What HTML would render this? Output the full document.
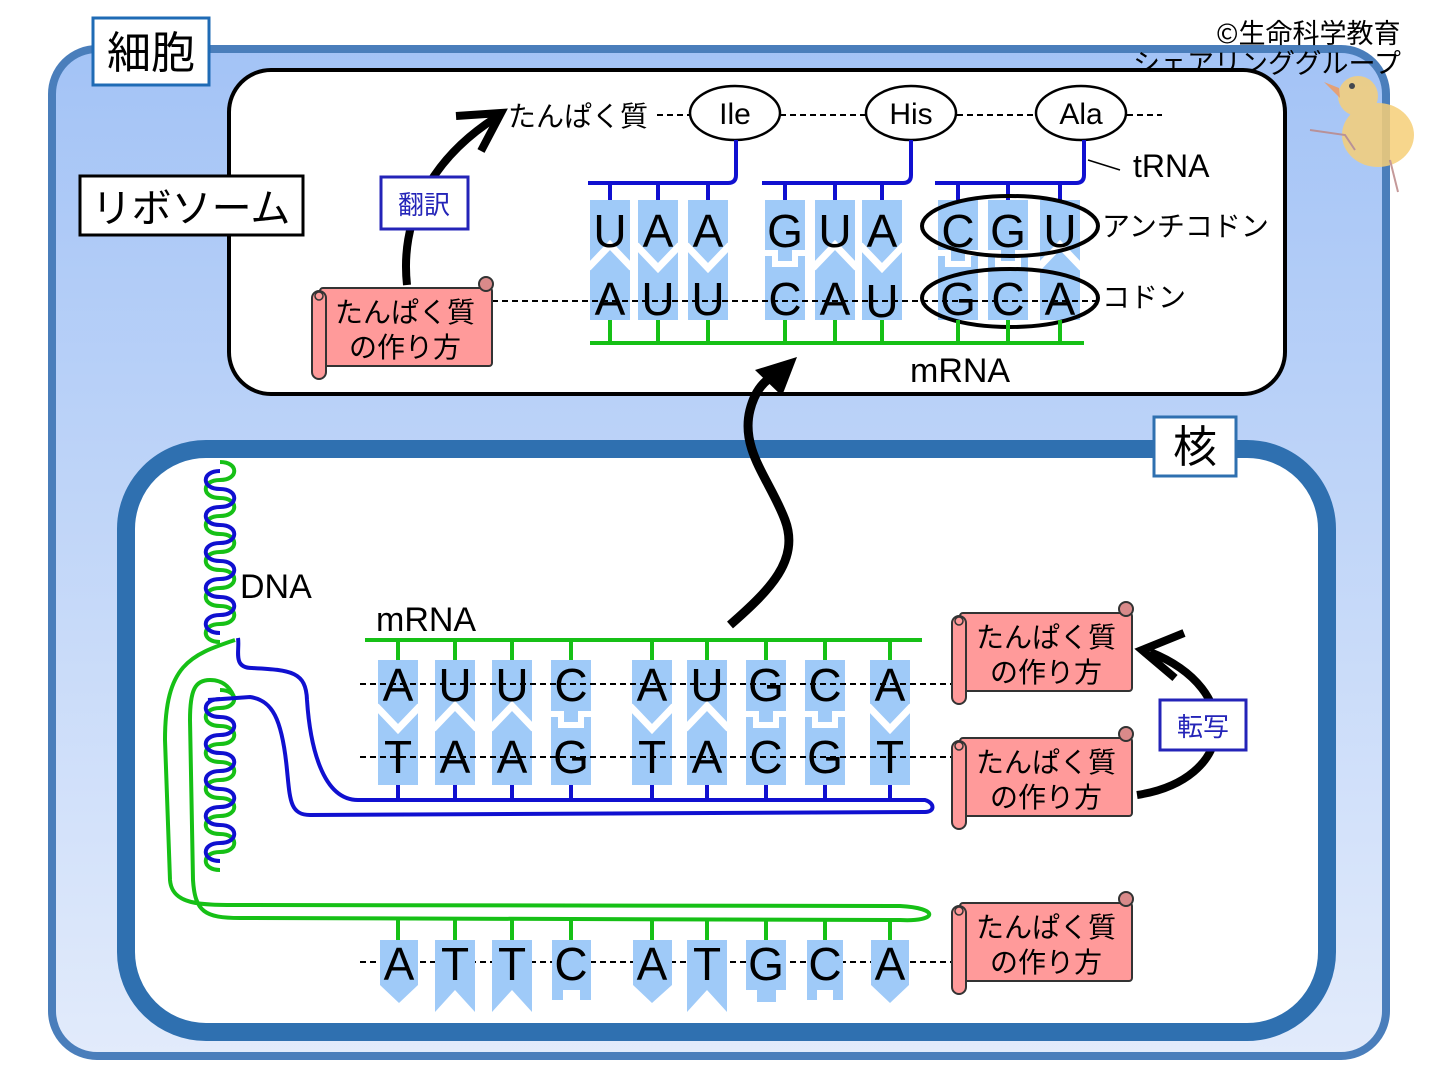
<!DOCTYPE html>
<html><head><meta charset="utf-8"><style>
html,body{margin:0;padding:0;background:#fff;width:1437px;height:1077px;overflow:hidden}
svg{display:block}
text{font-family:"Liberation Sans","Noto Sans CJK JP",sans-serif;fill:#000}
.jp{font-family:"Noto Sans CJK JP","Liberation Sans",sans-serif}
.b{font-size:46px;text-anchor:middle}
</style></head><body>
<svg width="1437" height="1077" viewBox="0 0 1437 1077" xmlns="http://www.w3.org/2000/svg">
<defs>
<linearGradient id="cg" x1="0" y1="0" x2="0" y2="1"><stop offset="0" stop-color="#a3c3f6"/><stop offset="1" stop-color="#e2ebfb"/></linearGradient>
<polyline id="nV" points="-22,-12 0,11 22,-12" fill="none" stroke="#fff" stroke-width="7"/>
<polyline id="nA" points="-22,11 0,-12 22,11" fill="none" stroke="#fff" stroke-width="7"/>
<polyline id="nS" points="-22,-4 -10,-4 -10,7 10,7 10,-4 22,-4" fill="none" stroke="#fff" stroke-width="6"/>
<rect id="tR" x="-20" y="0" width="40" height="120" fill="#9fcaf8"/>
<rect id="tN" x="-20" y="0" width="40" height="125" fill="#9fcaf8"/>
<g id="scroll">
<rect x="8" y="10" width="172" height="78" rx="3" fill="#ff9a9a" stroke="#333" stroke-width="2"/>
<circle cx="174" cy="6" r="7" fill="#d98a8a" stroke="#333" stroke-width="2"/>
<rect x="0" y="13" width="14" height="88" rx="7" fill="#ff9a9a" stroke="#333" stroke-width="2"/>
<circle cx="7" cy="18" r="4" fill="none" stroke="#333" stroke-width="1.5"/>
</g>
</defs>

<!-- cell -->
<rect x="52" y="49" width="1334" height="1007" rx="45" fill="url(#cg)" stroke="#4a7ebb" stroke-width="8"/>
<rect x="93" y="18" width="116" height="67" fill="#fff" stroke="#1f6bb5" stroke-width="3"/>
<text x="151" y="68" class="jp" font-size="44" text-anchor="middle">細胞</text>

<!-- copyright + duck -->
<text x="1216" y="43" class="jp" font-size="27">©生命科学教育</text>
<text x="1133" y="73" class="jp" font-size="27">シェアリンググループ</text>
<g opacity="0.85">
<ellipse cx="1378" cy="135" rx="36" ry="32" fill="#f6cf78"/>
<circle cx="1358" cy="96" r="20" fill="#f6cf78"/>
<polygon points="1339,88 1324,82 1340,98" fill="#f09a60"/>
<circle cx="1352" cy="86" r="3" fill="#333"/>
<path d="M1355,150 L1345,135 L1310,130 M1390,160 L1398,192" stroke="#b88" stroke-width="2" fill="none"/>
</g>

<!-- ribosome -->
<rect x="229" y="70" width="1056" height="324" rx="42" fill="#fff" stroke="#000" stroke-width="4"/>
<rect x="80" y="176" width="223" height="59" fill="#fff" stroke="#000" stroke-width="3"/>
<text x="191" y="222" class="jp" font-size="40" text-anchor="middle">リボソーム</text>

<!-- translation arrow -->
<path d="M407,285 C400,220 430,160 495,118" fill="none" stroke="#000" stroke-width="8"/>
<polyline points="456,116 501,113 481,151" fill="none" stroke="#000" stroke-width="8"/>
<rect x="381" y="177" width="87" height="52" fill="#fff" stroke="#2424b8" stroke-width="3"/>
<text x="424" y="214" class="jp" font-size="26" text-anchor="middle" style="fill:#2424b8">翻訳</text>

<!-- protein row -->
<text x="508" y="126" class="jp" font-size="28">たんぱく質</text>
<g stroke="#000" stroke-width="2" stroke-dasharray="6,4">
<line x1="657" y1="115" x2="690" y2="115"/><line x1="780" y1="115" x2="866" y2="115"/>
<line x1="957" y1="115" x2="1036" y2="115"/><line x1="1127" y1="115" x2="1162" y2="115"/>
</g>
<g fill="#fff" stroke="#000" stroke-width="2.5">
<ellipse cx="735" cy="113" rx="45" ry="27"/><ellipse cx="911" cy="113" rx="45" ry="27"/><ellipse cx="1081" cy="113" rx="45" ry="27"/>
</g>
<text x="735" y="124" font-size="30" text-anchor="middle">Ile</text>
<text x="911" y="124" font-size="30" text-anchor="middle">His</text>
<text x="1081" y="124" font-size="30" text-anchor="middle">Ala</text>

<!-- tRNA -->
<g fill="none" stroke="#1010d0" stroke-width="4">
<path d="M588,183 H728 Q736,183 736,175 V140"/>
<path d="M762,183 H903 Q911,183 911,175 V140"/>
<path d="M935,183 H1076 Q1084,183 1084,175 V140"/>
<path d="M610,183V200M658,183V200M708,183V200M785,183V200M835,183V200M882,183V200M958,183V200M1008,183V200M1060,183V200"/>
</g>
<line x1="1088" y1="160" x2="1120" y2="170" stroke="#000" stroke-width="1.5"/>
<text x="1133" y="177" font-size="32">tRNA</text>

<!-- ribosome tiles -->
<g transform="translate(0,200)">
<use href="#tR" x="610"/><use href="#tR" x="658"/><use href="#tR" x="708"/>
<use href="#tR" x="785"/><use href="#tR" x="835"/><use href="#tR" x="882"/>
<use href="#tR" x="958"/><use href="#tR" x="1008"/><use href="#tR" x="1060"/>
</g>
<g transform="translate(0,257)">
<use href="#nA" x="610"/><use href="#nV" x="658"/><use href="#nV" x="708"/>
<use href="#nS" x="785"/><use href="#nA" x="835"/><use href="#nV" x="882"/>
<use href="#nS" x="958"/><use href="#nS" x="1008"/><use href="#nA" x="1060"/>
</g>
<line x1="492" y1="301" x2="1100" y2="301" stroke="#000" stroke-width="2" stroke-dasharray="6,4"/>
<g>
<text class="b" x="610" y="247">U</text><text class="b" x="658" y="247">A</text><text class="b" x="708" y="247">A</text>
<text class="b" x="785" y="247">G</text><text class="b" x="835" y="247">U</text><text class="b" x="882" y="247">A</text>
<text class="b" x="958" y="247">C</text><text class="b" x="1008" y="247">G</text><text class="b" x="1060" y="247">U</text>
<text class="b" x="610" y="315">A</text><text class="b" x="658" y="315">U</text><text class="b" x="708" y="315">U</text>
<text class="b" x="785" y="315">C</text><text class="b" x="835" y="315">A</text><text class="b" x="882" y="317">U</text>
<text class="b" x="958" y="315">G</text><text class="b" x="1008" y="315">C</text><text class="b" x="1060" y="315">A</text>
</g>
<g fill="none" stroke="#000" stroke-width="4">
<ellipse cx="1010" cy="226" rx="88" ry="30"/><ellipse cx="1010" cy="298" rx="88" ry="29"/>
</g>
<g stroke="#16c016" stroke-width="4">
<line x1="590" y1="343" x2="1084" y2="343"/>
<path d="M610,320V343M658,320V343M708,320V343M785,320V343M835,320V343M882,320V343M958,320V343M1008,320V343M1060,320V343"/>
</g>
<text x="1102" y="236" class="jp" font-size="28">アンチコドン</text>
<text x="1102" y="307" class="jp" font-size="28">コドン</text>
<text x="910" y="382" font-size="34">mRNA</text>
<use href="#scroll" x="312" y="278"/>
<text x="405" y="322" class="jp" font-size="28" text-anchor="middle">たんぱく質</text>
<text x="405" y="357" class="jp" font-size="28" text-anchor="middle">の作り方</text>

<!-- nucleus -->
<rect x="126" y="449" width="1201" height="583" rx="80" fill="#fff" stroke="#2f70b0" stroke-width="18"/>
<rect x="1154" y="417" width="82" height="59" fill="#fff" stroke="#2f70b0" stroke-width="3"/>
<text x="1195" y="462" class="jp" font-size="44" text-anchor="middle">核</text>

<!-- big arrow -->
<path d="M730,625 C770,590 800,560 785,520 C770,480 740,450 750,410 C755,390 765,380 775,375" fill="none" stroke="#000" stroke-width="9"/>
<polygon points="755,370 797,357 782,396" fill="#000"/>

<!-- DNA -->
<path d="M220,462 c19,0 19,18 0,18 c-19,0 -19,18 0,18 c19,0 19,18 0,18 c-19,0 -19,18 0,18 c19,0 19,18 0,18 c-19,0 -19,18 0,18 c19,0 19,18 0,18 c-19,0 -19,18 0,18 c19,0 19,18 0,18 c-19,0 -19,18 0,18" fill="none" stroke="#16c016" stroke-width="4"/>
<path d="M220,471 c-19,0 -19,18 0,18 c19,0 19,18 0,18 c-19,0 -19,18 0,18 c19,0 19,18 0,18 c-19,0 -19,18 0,18 c19,0 19,18 0,18 c-19,0 -19,18 0,18 c19,0 19,18 0,18 c-19,0 -19,18 0,18" fill="none" stroke="#1010d0" stroke-width="4"/>
<path d="M220,690 c19,0 19,18 0,18 c-19,0 -19,18 0,18 c19,0 19,18 0,18 c-19,0 -19,18 0,18 c19,0 19,18 0,18 c-19,0 -19,18 0,18 c19,0 19,18 0,18 c-19,0 -19,18 0,18 c19,0 19,18 0,18 c-19,0 -19,18 0,18" fill="none" stroke="#16c016" stroke-width="4"/>
<path d="M220,699 c-19,0 -19,18 0,18 c19,0 19,18 0,18 c-19,0 -19,18 0,18 c19,0 19,18 0,18 c-19,0 -19,18 0,18 c19,0 19,18 0,18 c-19,0 -19,18 0,18 c19,0 19,18 0,18 c-19,0 -19,18 0,18" fill="none" stroke="#1010d0" stroke-width="4"/>
<path d="M235,640 C190,655 165,665 165,740 L170,880 C172,905 200,905 240,905 L900,906 C940,908 938,922 900,920 L240,918 C205,918 195,912 193,880 L190,720 C190,690 195,680 210,680 C225,680 232,690 235,700" fill="none" stroke="#16c016" stroke-width="4"/>
<path d="M238,638 C240,650 232,668 252,668 C292,670 306,672 307,700 C310,745 322,800 358,800 L925,800 C935,803 935,812 925,812 L310,815 C290,815 290,800 287,770 C282,718 272,700 250,697 L208,700" fill="none" stroke="#1010d0" stroke-width="4"/>
<text x="240" y="598" font-size="34">DNA</text>

<!-- nucleus strands -->
<text x="376" y="631" font-size="34">mRNA</text>
<g stroke="#16c016" stroke-width="4">
<line x1="365" y1="640" x2="922" y2="640"/>
<path d="M398,640V660M455,640V660M512,640V660M571,640V660M652,640V660M707,640V660M766,640V660M825,640V660M890,640V660"/>
<path d="M398,918V940M455,918V940M512,918V940M571,918V940M652,918V940M707,918V940M766,918V940M825,918V940M890,918V940"/>
</g>
<g stroke="#1010d0" stroke-width="4">
<path d="M398,785V800M455,785V800M512,785V800M571,785V800M652,785V800M707,785V800M766,785V800M825,785V800M890,785V800"/>
</g>
<g transform="translate(0,660)">
<use href="#tN" x="398"/><use href="#tN" x="455"/><use href="#tN" x="512"/><use href="#tN" x="571"/>
<use href="#tN" x="652"/><use href="#tN" x="707"/><use href="#tN" x="766"/><use href="#tN" x="825"/><use href="#tN" x="890"/>
</g>
<g transform="translate(0,718)">
<use href="#nV" x="398"/><use href="#nA" x="455"/><use href="#nA" x="512"/><use href="#nS" x="571"/>
<use href="#nV" x="652"/><use href="#nA" x="707"/><use href="#nS" x="766"/><use href="#nS" x="825"/><use href="#nV" x="890"/>
</g>
<g stroke="#000" stroke-width="2" stroke-dasharray="6,4">
<line x1="360" y1="684" x2="952" y2="684"/><line x1="360" y1="757" x2="952" y2="757"/><line x1="360" y1="962" x2="952" y2="962"/>
</g>
<g>
<text class="b" x="398" y="701">A</text><text class="b" x="455" y="701">U</text><text class="b" x="512" y="701">U</text><text class="b" x="571" y="701">C</text>
<text class="b" x="652" y="701">A</text><text class="b" x="707" y="701">U</text><text class="b" x="766" y="701">G</text><text class="b" x="825" y="701">C</text><text class="b" x="890" y="701">A</text>
<text class="b" x="398" y="773">T</text><text class="b" x="455" y="773">A</text><text class="b" x="512" y="773">A</text><text class="b" x="571" y="773">G</text>
<text class="b" x="652" y="773">T</text><text class="b" x="707" y="773">A</text><text class="b" x="766" y="773">C</text><text class="b" x="825" y="773">G</text><text class="b" x="890" y="773">T</text>
</g>

<!-- bottom strand tiles -->
<g fill="#9fcaf8">
<polygon points="380,940 418,940 418,985 399,1003 380,985"/>
<polygon points="435,940 475,940 475,1012 455,990 435,1012"/>
<polygon points="492,940 532,940 532,1012 512,990 492,1012"/>
<polygon points="552,940 591,940 591,1000 580,1000 580,990 563,990 563,1000 552,1000"/>
<polygon points="633,940 672,940 672,985 652,1003 633,985"/>
<polygon points="687,940 727,940 727,1012 707,990 687,1012"/>
<polygon points="746,940 786,940 786,990 776,990 776,1002 757,1002 757,990 746,990"/>
<polygon points="807,940 843,940 843,1000 833,1000 833,990 817,990 817,1000 807,1000"/>
<polygon points="871,940 909,940 909,985 890,1003 871,985"/>
</g>
<g>
<text class="b" x="399" y="980">A</text><text class="b" x="455" y="980">T</text><text class="b" x="512" y="980">T</text><text class="b" x="571" y="980">C</text>
<text class="b" x="652" y="980">A</text><text class="b" x="707" y="980">T</text><text class="b" x="766" y="980">G</text><text class="b" x="825" y="980">C</text><text class="b" x="890" y="980">A</text>
</g>

<!-- scrolls -->
<use href="#scroll" x="952" y="603"/>
<text x="1046" y="647" class="jp" font-size="28" text-anchor="middle">たんぱく質</text>
<text x="1046" y="682" class="jp" font-size="28" text-anchor="middle">の作り方</text>
<use href="#scroll" x="952" y="728"/>
<text x="1046" y="772" class="jp" font-size="28" text-anchor="middle">たんぱく質</text>
<text x="1046" y="807" class="jp" font-size="28" text-anchor="middle">の作り方</text>
<use href="#scroll" x="952" y="893"/>
<text x="1046" y="937" class="jp" font-size="28" text-anchor="middle">たんぱく質</text>
<text x="1046" y="972" class="jp" font-size="28" text-anchor="middle">の作り方</text>

<!-- transcription arrow -->
<path d="M1137,795 C1235,780 1245,690 1150,652" fill="none" stroke="#000" stroke-width="8"/>
<polyline points="1184,633 1142,650 1175,678" fill="none" stroke="#000" stroke-width="8"/>
<rect x="1160" y="700" width="86" height="50" fill="#fff" stroke="#2424b8" stroke-width="3"/>
<text x="1203" y="736" class="jp" font-size="26" text-anchor="middle" style="fill:#2424b8">転写</text>
</svg>
</body></html>
